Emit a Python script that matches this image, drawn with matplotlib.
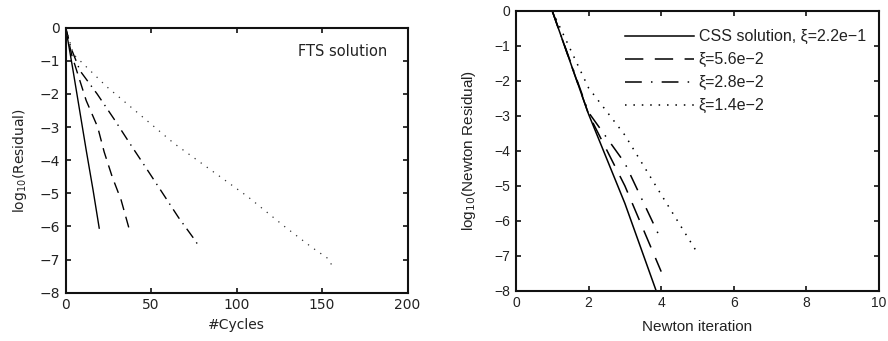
import numpy as np
from matplotlib import pyplot as plt

# left panel: FTS solution, residual vs cycles
cyc_solid = [0, 4, 8, 12, 16, 19.6]
res_solid = [0, -1.2, -2.45, -3.7, -4.9, -6.05]
cyc_dash = [0, 3.5, 12, 18.7, 22.5, 27.2, 32.4, 37.8]
res_dash = [0, -0.82, -2.2, -3.0, -3.75, -4.5, -5.2, -6.2]
cyc_dashdot = [0, 3, 8.4, 18.4, 28.2, 37.6, 46.6, 56.5, 66, 76, 78]
res_dashdot = [0, -0.6, -1.3, -2.0, -2.75, -3.5, -4.2, -4.98, -5.73, -6.44, -6.62]
cyc_dot = [0, 4.5, 24, 63.3, 106.5, 128, 143.7, 153.5, 156, 158.4]
res_dot = [0, -0.8, -1.78, -3.49, -5.1, -6.0, -6.62, -6.97, -7.2, -7.2]

# right panel: Newton residual vs Newton iteration
newton_it = [1, 2, 3, 4]
css_res = [0, -2.95, -5.5, -8.4]
xi56_res = [0, -2.95, -5.0, -7.45]
xi28_res = [0, -2.9, -4.35, -6.55]
newton_it_dot = [1, 2, 3, 4, 5]
xi14_res = [0, -2.2, -3.55, -5.25, -6.92]

labels = ['CSS solution, ξ=2.2e\u22121', 'ξ=5.6e\u22122', 'ξ=2.8e\u22122', 'ξ=1.4e\u22122']

txtc = '#222222'

fig = plt.figure(figsize=(8.88, 3.41), dpi=100)
ax1 = fig.add_axes([0.074, 0.1416, 0.385, 0.777])
ax2 = fig.add_axes([0.581, 0.147, 0.409, 0.821])


def style_box(ax, family):
    for s in ax.spines.values():
        s.set_linewidth(1.5)
        s.set_color('#111111')
    ax.tick_params(direction='in', length=3.5, width=1.2, top=True, right=True,
                   labelsize=10, colors='#111111', labelcolor=txtc, pad=4)
    for lab in ax.get_xticklabels() + ax.get_yticklabels():
        lab.set_family(family)


# ---- left
ax1.plot(cyc_solid, res_solid, color='k', lw=1.0)
ax1.plot(cyc_dash, res_dash, color='k', lw=1.0, linestyle=(0, (8, 5)))
ax1.plot(cyc_dashdot, res_dashdot, color='k', lw=1.0, linestyle=(0, (8, 4, 1, 4)))
ax1.plot(cyc_dot, res_dot, color='#333333', lw=0.9, linestyle=(0, (1, 5)))
ax1.set_xlim(0, 200)
ax1.set_ylim(-8, 0)
ax1.set_xticks([0, 50, 100, 150, 200])
ax1.set_yticks(range(-8, 1))
style_box(ax1, 'DejaVu Sans')
ax1.set_xlabel('#Cycles', fontsize=10, color=txtc, family='DejaVu Sans', labelpad=4)
ax1.set_ylabel('log$_{10}$(Residual)', fontsize=10, color=txtc, family='DejaVu Sans', labelpad=8)
ax1.text(188, -0.72, 'FTS solution', ha='right', va='center', fontsize=10.5, color=txtc,
         family='DejaVu Sans')

# ---- right
ax2.plot(newton_it, css_res, color='k', lw=1.1, label=labels[0])
ax2.plot(newton_it, xi56_res, color='k', lw=1.1, linestyle=(0, (12, 7.5)), label=labels[1])
ax2.plot(newton_it, xi28_res, color='k', lw=1.1, linestyle=(0, (11, 6, 1, 6)), label=labels[2])
ax2.plot(newton_it_dot, xi14_res, color='k', lw=1.1, linestyle=(0, (1, 4.5)), label=labels[3])
ax2.set_xlim(0, 10)
ax2.set_ylim(-8, 0)
ax2.set_xticks(range(0, 11, 2))
ax2.set_yticks(range(-8, 1))
style_box(ax2, 'Liberation Sans')
ax2.set_xlabel('Newton iteration', fontsize=11, color=txtc, family='Liberation Sans', labelpad=7)
ax2.set_ylabel('log$_{10}$(Newton Residual)', fontsize=11, color=txtc, family='Liberation Sans',
               labelpad=12)
leg = ax2.legend(loc='upper right', bbox_to_anchor=(0.963, 0.935), frameon=False,
                 handlelength=4.3, handletextpad=0.3, labelspacing=0.5, borderpad=0,
                 borderaxespad=0, prop={'family': 'Liberation Sans', 'size': 11.5})
for t in leg.get_texts():
    t.set_color(txtc)

fig.savefig('out.png', dpi=100)
